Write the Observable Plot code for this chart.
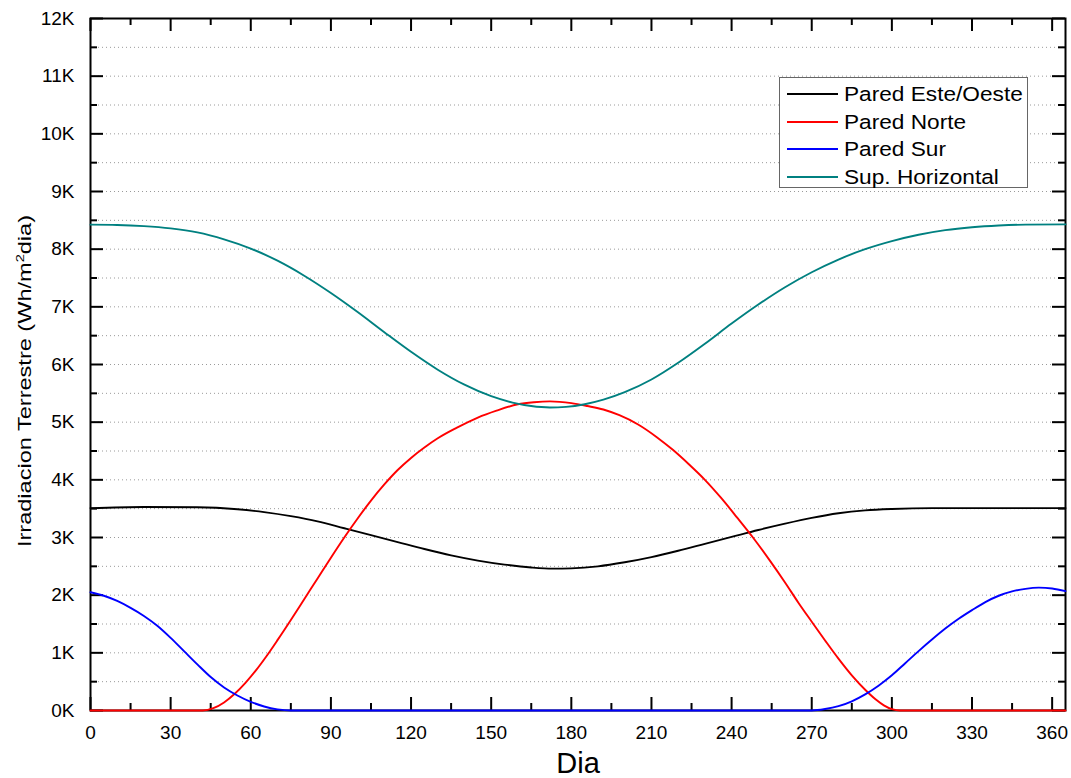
<!DOCTYPE html>
<html>
<head>
<meta charset="utf-8">
<script src="https://cdn.jsdelivr.net/npm/d3@7"></script>
<script src="https://cdn.jsdelivr.net/npm/@observablehq/plot@0.6"></script>
<style>
  body { margin: 0; background: #fff; font-family: "Liberation Sans", Arial, sans-serif; }
  #wrap { position: relative; width: 1071px; height: 778px; overflow: hidden; }
  #ylabel { position: absolute; left: 25px; top: 381px; white-space: nowrap; font-size: 18.5px; color: #000; line-height: 1; }
  #ylabel sup { font-size: 0.62em; vertical-align: 0.55em; line-height: 0; }
  #legend { position: absolute; left: 779px; top: 77px; width: 247px; height: 109px; border: 1px solid #666; background: #fff; }
  .lrow { position: absolute; left: 0; height: 0; }
  .lline { position: absolute; left: 7px; width: 51px; height: 2px; top: -1px; }
  .ltext { position: absolute; left: 64px; top: -12px; font-size: 20.5px; line-height: 24px; white-space: nowrap; transform-origin: 0 50%; color: #000; }
</style>
</head>
<body>
<div id="wrap"></div>
<script>
// ---- Data (values in Wh/m²dia) ----
const seriesNames = ["Pared Este/Oeste", "Pared Norte", "Pared Sur", "Sup. Horizontal"];
const seriesColors = ["#000000", "#ff0000", "#0000ff", "#008080"];

const esteOesteDays   = [0, 20, 40, 55, 65, 75, 85, 95, 105, 115, 125, 135, 145, 155, 165, 173, 180, 190, 200, 210, 220, 230, 240, 250, 260, 270, 280, 290, 300, 315, 365];
const esteOesteValues = [3510, 3530, 3525, 3490, 3440, 3370, 3280, 3160, 3040, 2920, 2800, 2690, 2600, 2530, 2480, 2460, 2465, 2500, 2570, 2660, 2770, 2890, 3010, 3130, 3240, 3340, 3420, 3470, 3495, 3510, 3510];

const norteDays   = [0, 42, 46, 50, 54, 58, 62, 66, 70, 75, 80, 85, 90, 95, 100, 105, 110, 115, 120, 125, 130, 137, 145, 152, 160, 166, 172, 180, 186, 192, 198, 205, 212, 218, 224, 230, 236, 242, 248, 254, 260, 265, 270, 275, 280, 285, 290, 294, 297, 300, 303, 365];
const norteValues = [0, 0, 40, 140, 290, 480, 700, 950, 1220, 1570, 1930, 2290, 2650, 3000, 3330, 3640, 3920, 4170, 4380, 4560, 4720, 4900, 5080, 5200, 5310, 5345, 5360, 5330, 5280, 5220, 5120, 4960, 4740, 4520, 4270, 4000, 3690, 3350, 3000, 2620, 2220, 1870, 1540, 1215, 900, 610, 360, 190, 90, 25, 0, 0];

const surDays   = [0, 5, 10, 15, 20, 25, 30, 35, 40, 45, 50, 55, 60, 65, 70, 75, 270, 275, 280, 285, 290, 295, 300, 305, 310, 315, 320, 325, 330, 335, 340, 345, 350, 355, 360, 365];
const surValues = [2050, 1990, 1900, 1780, 1640, 1470, 1260, 1030, 800, 580, 400, 260, 150, 70, 20, 0, 0, 25, 75, 160, 280, 430, 610, 820, 1030, 1230, 1420, 1590, 1740, 1880, 1990, 2065, 2110, 2130, 2115, 2070];

const horizDays   = [0, 10, 20, 30, 40, 50, 60, 70, 80, 90, 100, 110, 120, 130, 140, 150, 158, 165, 172, 178, 185, 192, 200, 210, 220, 230, 240, 250, 260, 270, 280, 290, 300, 310, 320, 330, 340, 350, 365];
const horizValues = [8425, 8420, 8400, 8360, 8290, 8170, 8010, 7800, 7540, 7240, 6910, 6560, 6220, 5910, 5650, 5450, 5340, 5280, 5255, 5265, 5310, 5390, 5520, 5740, 6030, 6360, 6710, 7040, 7340, 7600, 7820, 8000, 8140, 8250, 8330, 8380, 8410, 8425, 8430];

const xTicks      = d3.range(0, 361, 30);
const xMinorTicks = d3.range(15, 360, 30);
const yTicks      = d3.range(0, 12001, 1000);
const yMinorTicks = d3.range(500, 12000, 1000);
const yGridLines  = d3.range(500, 12000, 500);

const xLabel = "Dia";

// ---- Build long table ----
const dayArrays = [esteOesteDays, norteDays, surDays, horizDays];
const valueArrays = [esteOesteValues, norteValues, surValues, horizValues];
const rows = [];
seriesNames.forEach((name, i) => {
  dayArrays[i].forEach((d, j) => rows.push({ series: name, day: d, value: valueArrays[i][j] }));
});

const W = 1071, H = 778, mL = 90, mR = 6, mT = 18, mB = 68;
const innerW = W - mL - mR, innerH = H - mT - mB;
const majorLen = 13, minorLen = 7;

const chart = Plot.plot({
  width: W, height: H,
  marginLeft: mL, marginRight: mR, marginTop: mT, marginBottom: mB,
  style: { fontFamily: '"Liberation Sans", Arial, sans-serif', fontSize: "19px", color: "#000", background: "#fff", overflow: "visible" },
  x: { domain: [0, 365], ticks: xTicks, tickSize: 0, tickPadding: 15, label: null },
  y: { domain: [0, 12000], ticks: yTicks, tickSize: 0, tickPadding: 16, tickFormat: d => (d / 1000) + "K", label: null },
  color: { domain: seriesNames, range: seriesColors },
  marks: [
    Plot.ruleY(yGridLines, { y: d => d, stroke: "#9a9a9a", strokeWidth: 1, strokeDasharray: "1,3" }),
    Plot.frame({ stroke: "#000", strokeWidth: 2 }),
    // inward tick marks on all four sides
    Plot.tickX(xTicks, { x: d => d, insetTop: innerH - majorLen, stroke: "#000", strokeWidth: 2 }),
    Plot.tickX(xMinorTicks, { x: d => d, insetTop: innerH - minorLen, stroke: "#000", strokeWidth: 2 }),
    Plot.tickX(xTicks, { x: d => d, insetBottom: innerH - majorLen, stroke: "#000", strokeWidth: 2 }),
    Plot.tickX(xMinorTicks, { x: d => d, insetBottom: innerH - minorLen, stroke: "#000", strokeWidth: 2 }),
    Plot.tickY(yTicks, { y: d => d, insetRight: innerW - majorLen, stroke: "#000", strokeWidth: 2 }),
    Plot.tickY(yMinorTicks, { y: d => d, insetRight: innerW - minorLen, stroke: "#000", strokeWidth: 2 }),
    Plot.tickY(yTicks, { y: d => d, insetLeft: innerW - majorLen, stroke: "#000", strokeWidth: 2 }),
    Plot.tickY(yMinorTicks, { y: d => d, insetLeft: innerW - minorLen, stroke: "#000", strokeWidth: 2 }),
    Plot.line(rows, { x: "day", y: "value", z: "series", stroke: "series", strokeWidth: 1.9, curve: "monotone-x" }),
    Plot.text([xLabel], { text: d => d, frameAnchor: "bottom", dy: 62, fontSize: 29, fill: "#000" })
  ]
});

const wrap = document.getElementById("wrap");
wrap.appendChild(chart);

// y-axis title
const yl = document.createElement("div");
yl.id = "ylabel";
yl.innerHTML = "Irradiacion Terrestre (Wh/m<sup>2</sup>dia)";
wrap.appendChild(yl);
const ylw = yl.offsetWidth;
const ysx = 332 / ylw;
yl.style.transform = `translate(-50%,-50%) rotate(-90deg) scaleX(${ysx})`;

// legend
const lg = document.createElement("div");
lg.id = "legend";
const rowY = [16, 44, 71, 99];
seriesNames.forEach((name, i) => {
  const r = document.createElement("div");
  r.className = "lrow";
  r.style.top = rowY[i] + "px";
  const ln = document.createElement("div");
  ln.className = "lline";
  ln.style.background = seriesColors[i];
  const tx = document.createElement("div");
  tx.className = "ltext";
  tx.textContent = name;
  r.appendChild(ln); r.appendChild(tx);
  lg.appendChild(r);
});
wrap.appendChild(lg);
const first = lg.querySelector(".ltext");
const lsx = 179 / first.offsetWidth;
lg.querySelectorAll(".ltext").forEach(t => t.style.transform = `scaleX(${lsx})`);
</script>
</body>
</html>
